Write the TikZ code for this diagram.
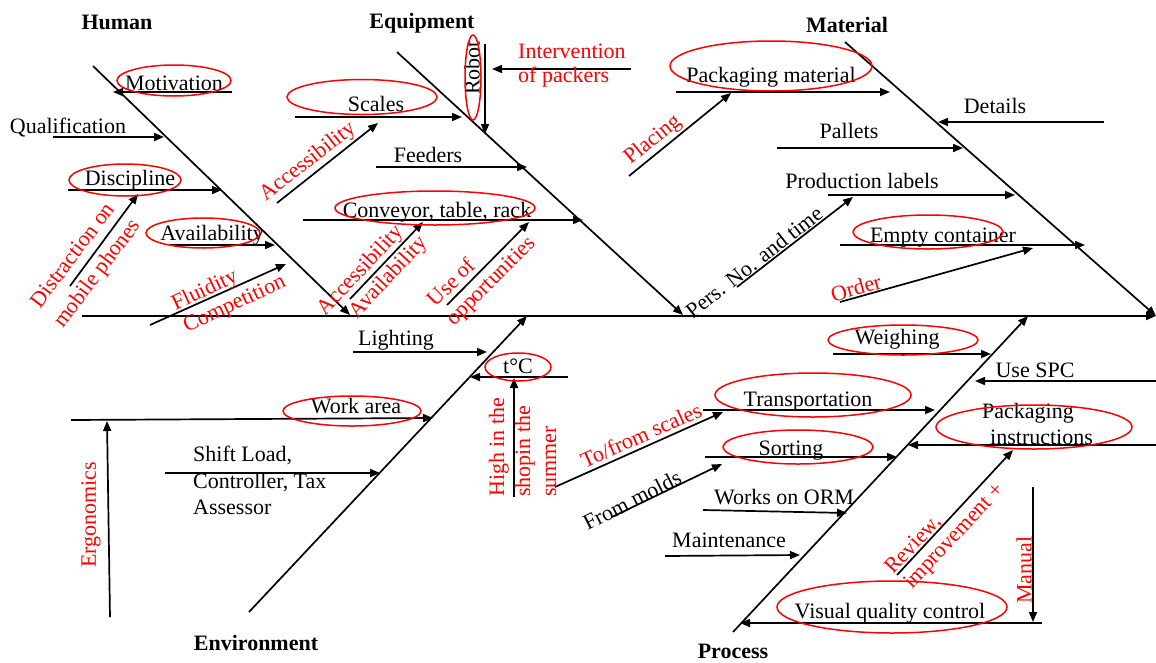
\documentclass[tikz,border=0pt]{standalone}
\usepackage{fontspec}
\setmainfont{Liberation Serif}
\usetikzlibrary{arrows.meta,shapes.geometric}
\begin{document}
\begin{tikzpicture}[x=1pt,y=-1pt,
  txt/.style={font=\fontsize{22}{26}\selectfont, inner sep=0pt},
  lbl/.style={txt, anchor=base},
  lbll/.style={txt, anchor=base west},
  note/.style={txt, text=red},
  head/.style={inner sep=0pt, font=\fontsize{22}{26}\selectfont\bfseries, anchor=base},
  arr/.style={line width=1.7pt, -{Triangle[length=10pt,width=8pt]}},
  ring/.style={draw=red, line width=1.5pt, ellipse, inner sep=0pt},
]
\useasboundingbox (0,0) rectangle (1156,662);

% ---------- spine and main bones ----------
\coordinate (s0) at (82,316);   \coordinate (s1) at (1156,316);
\coordinate (h0) at (93,66);    \coordinate (h1) at (350,315);
\coordinate (q0) at (397,52);   \coordinate (q1) at (683,315);
\coordinate (m0) at (845,42);   \coordinate (m1) at (1156,316);
\coordinate (v0) at (249,612);  \coordinate (v1) at (527,316);
\coordinate (p0) at (733,632);  \coordinate (p1) at (1028,316);
\draw[arr] (s0) -- (s1);
\draw[arr] (h0) -- (h1);
\draw[arr] (q0) -- (q1);
\draw[arr] (m0) -- (m1);
\draw[arr] (v0) -- (v1);
\draw[arr] (p0) -- (p1);

\node[head] (tHum) at (117,29) {Human};
\node[head] (tEqu) at (422,28) {Equipment};
\node[head] (tMat) at (847,32) {Material};
\node[head] (tEnv) at (256,650) {Environment};
\node[head] (tPro) at (733,658) {Process};

% ---------- Human ----------
\coordinate (mo0) at (232,92);  \coordinate (mo1) at (113,92);
\coordinate (qu0) at (53,137);  \coordinate (qu1) at (164,137);
\coordinate (di0) at (68,190);  \coordinate (di1) at (222,190);
\coordinate (av0) at (170,245); \coordinate (av1) at (275,245);
\coordinate (ds0) at (70,286);  \coordinate (ds1) at (138,194);
\coordinate (fl0) at (150,325); \coordinate (fl1) at (286,264);
\draw[arr] (mo0) -- (mo1);
\draw[arr] (qu0) -- (qu1);
\draw[arr] (di0) -- (di1);
\draw[arr] (av0) -- (av1);
\draw[arr] (ds0) -- (ds1);
\draw[arr] (fl0) -- (fl1);
\node[lbl] (nMot) at (174,90) {Motivation};
\node[lbl] (nQua) at (68,133) {Qualification};
\node[lbl] (nDis) at (130,185) {Discipline};
\node[lbl] (nAva) at (212,240) {Availability};
\node[note, rotate=53] (nDs1) at (72,255) {Distraction on};
\node[note, rotate=53] (nDs2) at (98,274) {mobile phones};
\node[note, rotate=25] (nFl1) at (205,291) {Fluidity};
\node[note, rotate=25] (nFl2) at (235,305) {Competition};
\node[ring, minimum width=114pt, minimum height=31pt] (eMot) at (174,80.5) {};
\node[ring, minimum width=112pt, minimum height=32pt] (eDis) at (125,180) {};
\node[ring, minimum width=114pt, minimum height=30pt] (eAva) at (203,233) {};

% ---------- Equipment ----------
\coordinate (sc0) at (295,117); \coordinate (sc1) at (462,117);
\coordinate (ro0) at (485,44);  \coordinate (ro1) at (485,134);
\coordinate (in0) at (631,69);  \coordinate (in1) at (492,69);
\coordinate (fe0) at (376,167); \coordinate (fe1) at (527,167);
\coordinate (co0) at (303,220); \coordinate (co1) at (583,220);
\coordinate (ac0) at (277,203); \coordinate (ac1) at (378,123);
\coordinate (aa0) at (350,299); \coordinate (aa1) at (423,222);
\coordinate (uo0) at (447,305); \coordinate (uo1) at (529,222);
\draw[arr] (sc0) -- (sc1);
\draw[arr] (ro0) -- (ro1);
\draw[arr] (in0) -- (in1);
\draw[arr] (fe0) -- (fe1);
\draw[arr] (co0) -- (co1);
\draw[arr] (ac0) -- (ac1);
\draw[arr] (aa0) -- (aa1);
\draw[arr] (uo0) -- (uo1);
\node[lbl] (nSca) at (376,111) {Scales};
\node[txt, rotate=90] (nRob) at (472,68) {Robot};
\node[note, anchor=base west] (nIn1) at (518,58) {Intervention};
\node[note, anchor=base west] (nIn2) at (518,82) {of packers};
\node[lbl] (nFee) at (428,162) {Feeders};
\node[lbl] (nCon) at (437,217) {Conveyor, table, rack};
\node[note, rotate=38] (nAc) at (308,162) {Accessibility};
\node[note, rotate=47] (nAa1) at (361,271) {Accessibility};
\node[note, rotate=47] (nAa2) at (389,278) {Availability};
\node[note, rotate=45] (nUo1) at (451,282) {Use of};
\node[note, rotate=45] (nUo2) at (492,282) {opportunities};
\node[ring, minimum width=150pt, minimum height=35pt] (eSca) at (362,97) {};
\node[ring, minimum width=16pt, minimum height=85pt] (eRob) at (473,77.5) {};
\node[ring, minimum width=200pt, minimum height=34pt] (eCon) at (435,208) {};

% ---------- Material ----------
\coordinate (pm0) at (676,92);   \coordinate (pm1) at (890,92);
\coordinate (pl0) at (629,176);  \coordinate (pl1) at (731,93);
\coordinate (de0) at (1104,122); \coordinate (de1) at (938,122);
\coordinate (pa0) at (777,148);  \coordinate (pa1) at (963,148);
\coordinate (pr0) at (828,195);  \coordinate (pr1) at (1015,195);
\coordinate (pn0) at (737,287);  \coordinate (pn1) at (853,197);
\coordinate (ec0) at (840,245);  \coordinate (ec1) at (1085,245);
\coordinate (or0) at (840,302);  \coordinate (or1) at (1033,248);
\draw[arr] (pm0) -- (pm1);
\draw[arr] (pl0) -- (pl1);
\draw[arr] (de0) -- (de1);
\draw[arr] (pa0) -- (pa1);
\draw[arr] (pr0) -- (pr1);
\draw[arr] (pn0) -- (pn1);
\draw[arr] (ec0) -- (ec1);
\draw[arr] (or0) -- (or1);
\node[lbl] (nPm) at (771,82) {Packaging material};
\node[note, rotate=39] (nPl) at (653,140) {Placing};
\node[lbl] (nDe) at (995,113) {Details};
\node[lbl] (nPa) at (849,138) {Pallets};
\node[lbl] (nPr) at (862,188) {Production labels};
\node[txt, rotate=38] (nPn) at (754,262) {Pers. No. and time};
\node[lbl] (nEc) at (943,242) {Empty container};
\node[note, rotate=16] (nOr) at (856,288) {Order};
\node[ring, minimum width=202pt, minimum height=50pt] (ePm) at (771,66) {};
\node[ring, minimum width=150pt, minimum height=34pt] (eEc) at (928,232) {};

% ---------- Environment ----------
\coordinate (li0) at (353,352); \coordinate (li1) at (487,352);
\coordinate (tc0) at (568,377); \coordinate (tc1) at (470,377);
\coordinate (hi0) at (514,497); \coordinate (hi1) at (514,378);
\coordinate (wa0) at (71,420);  \coordinate (wa1) at (433,418);
\coordinate (er0) at (110,617); \coordinate (er1) at (107,421);
\coordinate (sh0) at (165,473); \coordinate (sh1) at (380,473);
\draw[arr] (li0) -- (li1);
\draw[arr] (tc0) -- (tc1);
\draw[arr] (hi0) -- (hi1);
\draw[arr] (wa0) -- (wa1);
\draw[arr] (er0) -- (er1);
\draw[arr] (sh0) -- (sh1);
\node[lbl] (nLi) at (396,345) {Lighting};
\node[lbl] (nTc) at (518,373) {t°C};
\node[note, rotate=90, anchor=base west] (nHi1) at (504,497) {High in the};
\node[note, rotate=90, anchor=base west] (nHi2) at (530,497) {shopin the};
\node[note, rotate=90, anchor=base west] (nHi3) at (556,497) {summer};
\node[lbl] (nWa) at (356,413) {Work area};
\node[note, rotate=90] (nEr) at (91,515) {Ergonomics};
\node[lbll] (nSh1) at (193,461) {Shift Load,};
\node[lbll] (nSh2) at (193,488) {Controller, Tax};
\node[lbll] (nSh3) at (193,514) {Assessor};
\node[ring, minimum width=66pt, minimum height=28pt] (eTc) at (518,367) {};
\node[ring, minimum width=138pt, minimum height=30pt] (eWa) at (352,411) {};

% ---------- Process ----------
\coordinate (we0) at (833,354);  \coordinate (we1) at (991,354);
\coordinate (us0) at (1156,381); \coordinate (us1) at (975,381);
\coordinate (tr0) at (703,410);  \coordinate (tr1) at (935,410);
\coordinate (ts0) at (555,487);  \coordinate (ts1) at (723,412);
\coordinate (pi0) at (1156,445); \coordinate (pi1) at (908,445);
\coordinate (so0) at (705,457);  \coordinate (so1) at (897,457);
\coordinate (fm0) at (612,517);  \coordinate (fm1) at (722,464);
\coordinate (wo0) at (703,510);  \coordinate (wo1) at (847,513);
\coordinate (ma0) at (665,556);  \coordinate (ma1) at (800,555);
\coordinate (rv0) at (897,575);  \coordinate (rv1) at (1013,450);
\coordinate (mn0) at (1033,487); \coordinate (mn1) at (1033,622);
\coordinate (vq0) at (1042,623); \coordinate (vq1) at (740,623);
\draw[arr] (we0) -- (we1);
\draw[arr] (us0) -- (us1);
\draw[arr] (tr0) -- (tr1);
\draw[arr] (ts0) -- (ts1);
\draw[arr] (pi0) -- (pi1);
\draw[arr] (so0) -- (so1);
\draw[arr] (fm0) -- (fm1);
\draw[arr] (wo0) -- (wo1);
\draw[arr] (ma0) -- (ma1);
\draw[arr] (rv0) -- (rv1);
\draw[arr] (mn0) -- (mn1);
\draw[arr] (vq0) -- (vq1);
\node[lbl] (nWe) at (897,344) {Weighing};
\node[lbl] (nUs) at (1035,377) {Use SPC};
\node[lbl] (nTr) at (808,406) {Transportation};
\node[note, rotate=24] (nTs) at (641,435) {To/from scales};
\node[lbll] (nPi1) at (982,418) {Packaging};
\node[lbll] (nPi2) at (990,444) {instructions};
\node[lbl] (nSo) at (791,455) {Sorting};
\node[txt, rotate=27] (nFm) at (632,500) {From molds};
\node[lbl] (nWo) at (784,504) {Works on ORM};
\node[lbl] (nMa) at (729,547) {Maintenance};
\node[note, rotate=47] (nRv1) at (914,545) {Review,};
\node[note, rotate=47] (nRv2) at (955,537) {improvement +};
\node[note, rotate=90] (nMn) at (1024,570) {Manual};
\node[lbl] (nVq) at (890,618) {Visual quality control};
\node[ring, minimum width=150pt, minimum height=30pt] (eWe) at (903,340) {};
\node[ring, minimum width=196pt, minimum height=44pt] (eTr) at (813,395) {};
\node[ring, minimum width=150pt, minimum height=34pt] (eSo) at (798,447) {};
\node[ring, minimum width=196pt, minimum height=44pt] (ePi) at (1034,427) {};
\node[ring, minimum width=230pt, minimum height=52pt] (eVq) at (892,607) {};
\end{tikzpicture}
\end{document}
